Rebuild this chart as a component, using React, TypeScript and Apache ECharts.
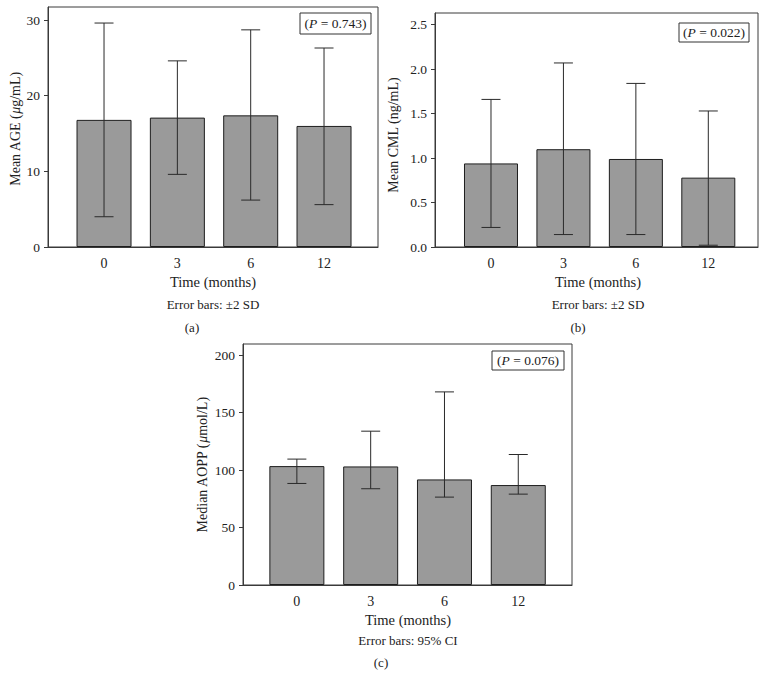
import React, { useEffect, useRef } from "react";
import * as echarts from "echarts";

// ---- Data ----
const categories = ["0", "3", "6", "12"];

const ageMean = [16.8, 17.1, 17.4, 16.0];
const ageLow = [4.0, 9.6, 6.2, 5.6];
const ageHigh = [29.6, 24.6, 28.7, 26.3];
const ageTicks = [0, 10, 20, 30];

const cmlMean = [0.94, 1.1, 0.99, 0.78];
const cmlLow = [0.22, 0.14, 0.14, 0.02];
const cmlHigh = [1.66, 2.07, 1.84, 1.53];
const cmlTicks = [0, 0.5, 1.0, 1.5, 2.0, 2.5];

const aoppMedian = [103.5, 103.2, 91.9, 87.0];
const aoppLow = [88.4, 83.8, 76.5, 79.1];
const aoppHigh = [109.6, 133.9, 168.1, 113.6];
const aoppTicks = [0, 50, 100, 150, 200];

const pValues = ["0.743", "0.022", "0.076"];
const yTitles = [
  ["Mean AGE (", "μ", "g/mL)"],
  ["Mean CML (ng/mL)", "", ""],
  ["Median AOPP (", "μ", "mol/L)"],
];
const errorNotes = ["Error bars: ±2 SD", "Error bars: ±2 SD", "Error bars: 95% CI"];
const panelTags = ["(a)", "(b)", "(c)"];
const xTitle = "Time (months)";

// ---- Layout ----
const FONT = "'Liberation Serif', 'DejaVu Serif', serif";
const TXT = "#222";
const LINE = "#3a3a3a";

const layouts = [
  { left: 48, top: 7, width: 330, height: 240, xMin: -0.764, xMax: 3.736, yMax: 31.72, barW: 55,
    yName: [15, 129], xName: [213, 282], note: [213, 304], tag: [192, 327], pBox: [300, 13, 71, 21] },
  { left: 435, top: 13, width: 323, height: 234, xMin: -0.773, xMax: 3.686, yMax: 2.632, barW: 54,
    yName: [393, 135], xName: [598, 282], note: [598, 304], tag: [578, 327], pBox: [679, 23, 70, 19] },
  { left: 243, top: 344, width: 329, height: 241, xMin: -0.73, xMax: 3.728, yMax: 209.8, barW: 55,
    yName: [202, 465], xName: [408, 620], note: [408, 640], tag: [381, 662], pBox: [492, 351, 72, 19] },
];

const panelsData = [
  { mean: ageMean, low: ageLow, high: ageHigh, ticks: ageTicks, fmt: (v: number) => String(v) },
  { mean: cmlMean, low: cmlLow, high: cmlHigh, ticks: cmlTicks, fmt: (v: number) => v.toFixed(1) },
  { mean: aoppMedian, low: aoppLow, high: aoppHigh, ticks: aoppTicks, fmt: (v: number) => String(v) },
];

function buildOption() {
  const grid: any[] = [];
  const xAxis: any[] = [];
  const yAxis: any[] = [];
  const series: any[] = [];
  const graphic: any[] = [];

  panelsData.forEach((p, i) => {
    const L = layouts[i];
    grid.push({
      left: L.left, top: L.top, width: L.width, height: L.height,
      containLabel: false, outerBoundsMode: "none",
      show: true, borderColor: LINE, borderWidth: 1, backgroundColor: "transparent",
    });
    xAxis.push({
      type: "value", gridIndex: i, min: L.xMin, max: L.xMax,
      splitLine: { show: false },
      axisLine: { show: true, onZero: false, lineStyle: { color: LINE, width: 1 } },
      axisTick: { show: false },
      axisLabel: {
        customValues: [0, 1, 2, 3],
        formatter: (v: number) => categories[Math.round(v)] ?? "",
        fontFamily: FONT, fontSize: 14, color: TXT, margin: 9,
      },
    });
    yAxis.push({
      type: "value", gridIndex: i, min: 0, max: L.yMax,
      splitLine: { show: false },
      axisLine: { show: true, onZero: false, lineStyle: { color: LINE, width: 1 } },
      axisTick: { show: true, customValues: p.ticks, length: 4, lineStyle: { color: LINE } },
      axisLabel: {
        customValues: p.ticks,
        formatter: (v: number) => p.fmt(v),
        fontFamily: FONT, fontSize: 13.5, color: TXT, margin: 8,
      },
    });
    series.push({
      type: "bar", xAxisIndex: i, yAxisIndex: i, barWidth: L.barW,
      data: p.mean.map((v, k) => [k, v]),
      itemStyle: { color: "#9a9a9a", borderColor: "#1e1e1e", borderWidth: 1 },
      z: 2,
    });
    series.push({
      type: "custom", xAxisIndex: i, yAxisIndex: i, z: 3,
      data: p.low.map((lo, k) => [k, lo, p.high[k]]),
      renderItem: (params: any, api: any) => {
        const x = api.value(0);
        const pl = api.coord([x, api.value(1)]);
        const ph = api.coord([x, api.value(2)]);
        const w = 9.5;
        const st = { stroke: "#2a2a2a", lineWidth: 1 };
        return {
          type: "group",
          children: [
            { type: "line", shape: { x1: ph[0], y1: ph[1], x2: pl[0], y2: pl[1] }, style: st },
            { type: "line", shape: { x1: ph[0] - w, y1: ph[1], x2: ph[0] + w, y2: ph[1] }, style: st },
            { type: "line", shape: { x1: pl[0] - w, y1: pl[1], x2: pl[0] + w, y2: pl[1] }, style: st },
          ],
        };
      },
    });

    const t = yTitles[i];
    graphic.push({
      type: "text", x: L.yName[0], y: L.yName[1], rotation: Math.PI / 2,
      style: {
        text: t[1] ? `{n|${t[0]}}{i|${t[1]}}{n|${t[2]}}` : `{n|${t[0]}}`,
        align: "center", verticalAlign: "middle",
        rich: {
          n: { fontFamily: FONT, fontSize: 14, fill: TXT },
          i: { fontFamily: FONT, fontSize: 14, fontStyle: "italic", fill: TXT },
        },
      },
    });
    graphic.push({
      type: "text", x: L.xName[0], y: L.xName[1],
      style: { text: xTitle, align: "center", verticalAlign: "middle", fontFamily: FONT, fontSize: 14.5, fill: TXT },
    });
    graphic.push({
      type: "text", x: L.note[0], y: L.note[1],
      style: { text: errorNotes[i], align: "center", verticalAlign: "middle", fontFamily: FONT, fontSize: 13, fill: TXT },
    });
    graphic.push({
      type: "text", x: L.tag[0], y: L.tag[1],
      style: { text: panelTags[i], align: "center", verticalAlign: "middle", fontFamily: FONT, fontSize: 13, fill: TXT },
    });
    const [bx, by, bw, bh] = L.pBox;
    graphic.push({
      type: "rect", shape: { x: bx, y: by, width: bw, height: bh },
      style: { fill: "#fff", stroke: "#333", lineWidth: 1 },
    });
    graphic.push({
      type: "text", x: bx + bw / 2, y: by + bh / 2,
      style: {
        text: `{n|(}{i|P}{n| = ${pValues[i]})}`,
        align: "center", verticalAlign: "middle",
        rich: {
          n: { fontFamily: FONT, fontSize: 13.5, fill: TXT },
          i: { fontFamily: FONT, fontSize: 13.5, fontStyle: "italic", fill: TXT },
        },
      },
    });
  });

  return {
    animation: false,
    backgroundColor: "#fff",
    grid, xAxis, yAxis, series, graphic,
  };
}

export default function App() {
  const ref = useRef<HTMLDivElement>(null);
  useEffect(() => {
    document.body.style.margin = "0";
    if (!ref.current) return;
    const chart = echarts.init(ref.current, null, { renderer: "svg" });
    chart.setOption(buildOption() as any);
    return () => chart.dispose();
  }, []);
  return <div ref={ref} style={{ width: 766, height: 676 }} />;
}
